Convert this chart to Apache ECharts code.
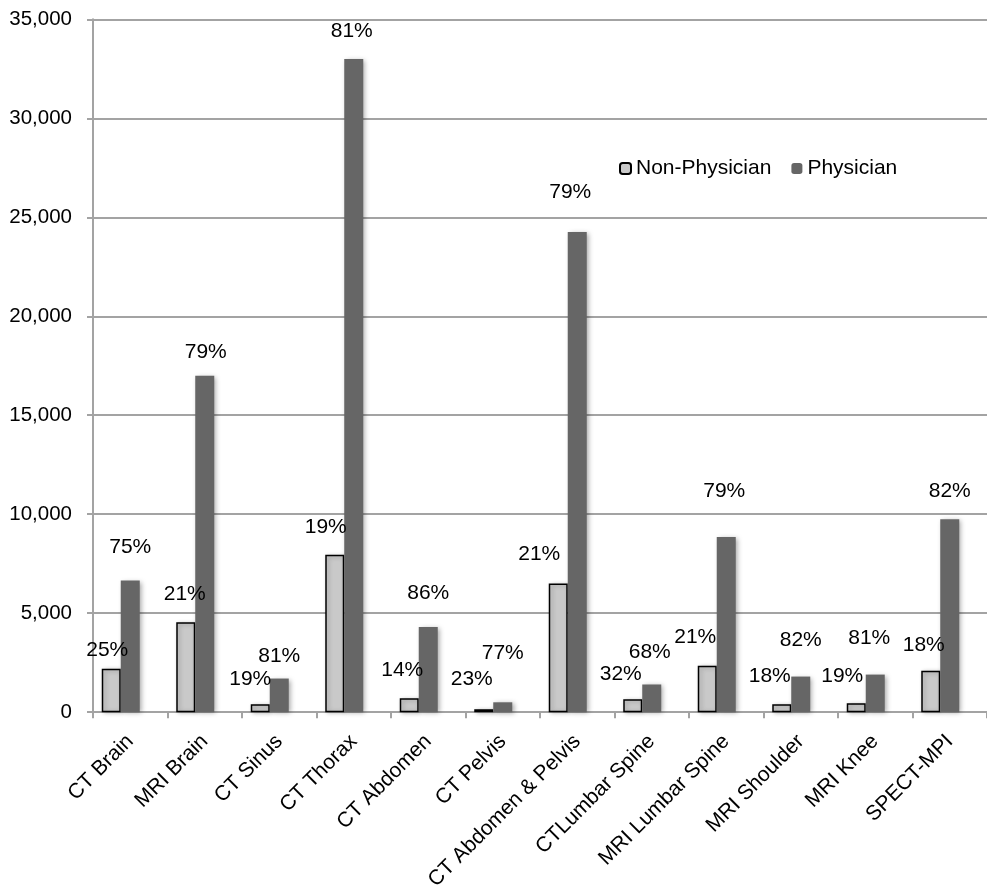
<!DOCTYPE html>
<html>
<head>
<meta charset="utf-8">
<script src="https://cdn.jsdelivr.net/npm/echarts@6/dist/echarts.min.js"></script>
<style>
  html, body { margin: 0; padding: 0; background: #fff; }
  #chart { width: 987px; height: 893px; }
</style>
</head>
<body>
<div id="chart"></div>
<script>
// Imaging studies ordered, by ordering provider type
const categories = ['CT Brain', 'MRI Brain', 'CT Sinus', 'CT Thorax', 'CT Abdomen', 'CT Pelvis',
  'CT Abdomen & Pelvis', 'CTLumbar Spine', 'MRI Lumbar Spine', 'MRI Shoulder', 'MRI Knee', 'SPECT-MPI'];
const nonPhysician = [2200, 4550, 400, 7950, 700, 150, 6500, 650, 2350, 400, 450, 2100];
const physician    = [6650, 17000, 1700, 33000, 4300, 500, 24250, 1400, 8850, 1800, 1900, 9750];
// Share of each study type ordered by each provider group
const nonPhysicianShare = ['25%', '21%', '19%', '19%', '14%', '23%', '21%', '32%', '21%', '18%', '19%', '18%'];
const physicianShare    = ['75%', '79%', '81%', '81%', '86%', '77%', '79%', '68%', '79%', '82%', '81%', '82%'];
const yTicks = [0, 5000, 10000, 15000, 20000, 25000, 30000, 35000];

// Small hand nudges for the share labels [dx, dy]
const npNudge = [[-4, 9], [-1, 0], [-10, 2], [-9, 0], [-7, -1], [-12, -3], [-19, -2], [-12, 2], [-12, -1], [-12, -1], [-14, 0], [-7, 2]];
const pNudge  = [[0, -6], [1, 4], [0, 5], [-2, 0], [0, -6], [0, -22], [-7, -12], [-2, -5], [-2, -18], [0, -9], [-6, -9], [0, 0]];

const FONT = 'Liberation Sans, Arial, sans-serif';
const GRID_COLOR = '#a3a3a3';

function withLabels(values, shares, nudges) {
  return values.map((v, i) => ({
    value: v,
    label: { formatter: shares[i], offset: nudges[i] }
  }));
}

const chart = echarts.init(document.getElementById('chart'), null, { renderer: 'canvas' });

chart.setOption({
  animation: false,
  backgroundColor: '#ffffff',
  textStyle: { fontFamily: FONT },
  grid: { left: 93, top: 19.3, width: 902.4, height: 699, containLabel: false },
  legend: {
    data: ['Non-Physician', 'Physician'],
    left: 614,
    top: 153,
    itemWidth: 11,
    itemHeight: 11,
    itemGap: 20,
    textStyle: { fontFamily: FONT, fontSize: 21, color: '#000' }
  },
  xAxis: {
    type: 'category',
    data: categories,
    boundaryGap: true,
    axisLine: { show: true, lineStyle: { color: GRID_COLOR, width: 2 } },
    axisTick: { show: true, length: 6, inside: false, lineStyle: { color: GRID_COLOR, width: 2 } },
    axisLabel: {
      rotate: 45,
      interval: 0,
      margin: 26,
      fontFamily: FONT,
      fontSize: 21,
      color: '#000'
    }
  },
  yAxis: {
    type: 'value',
    min: yTicks[0],
    max: yTicks[yTicks.length - 1],
    interval: yTicks[1] - yTicks[0],
    axisLine: { show: true, lineStyle: { color: GRID_COLOR, width: 2 } },
    axisTick: { show: true, length: 6, lineStyle: { color: GRID_COLOR, width: 2 } },
    splitLine: { show: true, lineStyle: { color: GRID_COLOR, width: 2 } },
    axisLabel: {
      margin: 21,
      fontFamily: FONT,
      fontSize: 20.5,
      color: '#000',
      formatter: v => v.toLocaleString('en-US')
    }
  },
  series: [
    {
      name: 'Non-Physician',
      type: 'bar',
      barWidth: 19,
      barGap: '0%',
      data: withLabels(nonPhysician, nonPhysicianShare, npNudge),
      itemStyle: {
        color: '#c9c9c9',
        borderColor: '#000',
        borderWidth: 1.5,
        shadowColor: 'rgba(0,0,0,0.25)',
        shadowBlur: 4,
        shadowOffsetX: 2,
        shadowOffsetY: 1
      },
      label: {
        show: true,
        position: 'top',
        distance: 17,
        fontFamily: FONT,
        fontSize: 21,
        color: '#000'
      }
    },
    {
      name: 'Physician',
      type: 'bar',
      barWidth: 19,
      barGap: '0%',
      data: withLabels(physician, physicianShare, pNudge),
      itemStyle: {
        color: '#666666',
        shadowColor: 'rgba(0,0,0,0.35)',
        shadowBlur: 5,
        shadowOffsetX: 2,
        shadowOffsetY: 1
      },
      label: {
        show: true,
        position: 'top',
        distance: 17,
        fontFamily: FONT,
        fontSize: 21,
        color: '#000'
      }
    },
    {
      // empty slot that keeps each bar pair left of its category centre
      name: 'spacer',
      type: 'bar',
      barWidth: 19,
      barGap: '0%',
      data: [],
      silent: true
    }
  ]
});
</script>
</body>
</html>
